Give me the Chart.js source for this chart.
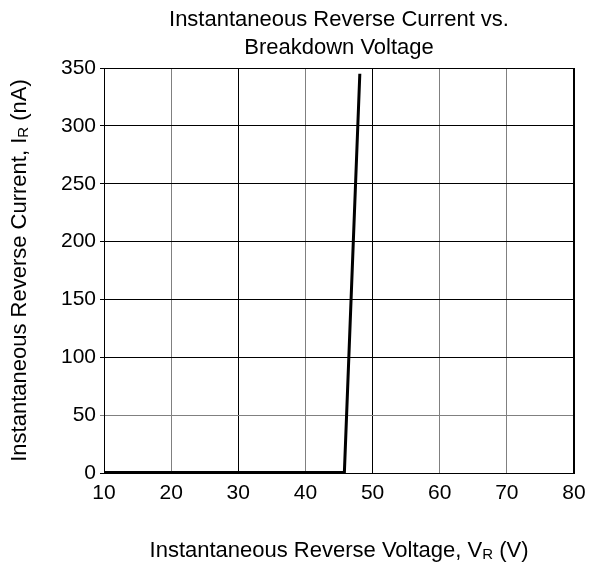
<!DOCTYPE html>
<html>
<head>
<meta charset="utf-8">
<script src="https://cdn.jsdelivr.net/npm/chart.js@4"></script>
<style>
  html, body { margin: 0; padding: 0; background: #fff; }
  #wrap { width: 590px; height: 564px; }
</style>
</head>
<body>
<div id="wrap"><canvas id="chart"></canvas></div>
<script>
// breakdown curve
const voltage = [10, 45.8, 48.1];
const current = [0.5, 0.5, 345];

const xTicks = [10, 20, 30, 40, 50, 60, 70, 80];
const yTicks = [0, 50, 100, 150, 200, 250, 300, 350];

const titleLines = ['Instantaneous Reverse Current vs.', 'Breakdown Voltage'];
const xTitle = ['Instantaneous Reverse Voltage, V', 'R', ' (V)'];
const yTitle = ['Instantaneous Reverse Current, I', 'R', ' (nA)'];

const grayX = [20, 40, 60, 70];
const grayY = [50];

const FONT = '"Liberation Sans", Arial, sans-serif';
const SIZE = 21;
const TITLE_SIZE = 22;

// draw text with a subscript piece, centred on (0,0)
function drawSubText(ctx, parts) {
    const big = TITLE_SIZE + 'px ' + FONT;
    const small = Math.round(TITLE_SIZE * 0.68) + 'px ' + FONT;
    ctx.font = big;
    const w0 = ctx.measureText(parts[0]).width;
    const w2 = ctx.measureText(parts[2]).width;
    ctx.font = small;
    const w1 = ctx.measureText(parts[1]).width;
    let x = -(w0 + w1 + w2) / 2;
    ctx.textAlign = 'left';
    ctx.textBaseline = 'alphabetic';
    ctx.font = big;
    ctx.fillText(parts[0], x, 8);
    x += w0;
    ctx.font = small;
    ctx.fillText(parts[1], x, 10);
    x += w1;
    ctx.font = big;
    ctx.fillText(parts[2], x, 8);
}

const titlesPlugin = {
    id: 'titles',
    afterDraw(chart) {
        const ctx = chart.ctx;
        const area = chart.chartArea;
        const cx = (area.left + area.right) / 2;
        ctx.save();
        ctx.fillStyle = '#000';
        ctx.font = TITLE_SIZE + 'px ' + FONT;
        ctx.textAlign = 'center';
        ctx.textBaseline = 'middle';
        ctx.fillText(titleLines[0], cx, 20);
        ctx.fillText(titleLines[1], cx, 48);

        ctx.save();
        ctx.translate(cx, 549);
        drawSubText(ctx, xTitle);
        ctx.restore();

        ctx.save();
        ctx.translate(18, (area.top + area.bottom) / 2);
        ctx.rotate(-Math.PI / 2);
        drawSubText(ctx, yTitle);
        ctx.restore();
        ctx.restore();
    }
};

new Chart(document.getElementById('chart'), {
    type: 'line',
    data: {
        datasets: [{
            data: voltage.map((v, i) => ({x: v, y: current[i]})),
            borderColor: '#000',
            borderWidth: 3,
            pointRadius: 0,
            tension: 0,
            clip: false
        }]
    },
    options: {
        responsive: true,
        maintainAspectRatio: false,
        animation: false,
        layout: { padding: { top: 68, right: 16, left: 0, bottom: 0 } },
        plugins: {
            legend: { display: false },
            title: { display: false },
            tooltip: { enabled: false }
        },
        scales: {
            x: {
                type: 'linear',
                min: 10,
                max: 80,
                afterBuildTicks: (s) => { s.ticks = xTicks.map(v => ({value: v})); },
                afterFit: (s) => {
                    s.height = 91;
                    s.paddingLeft = 0;
                    s.paddingRight = 0;
                },
                ticks: {
                    color: '#000',
                    font: { family: FONT, size: SIZE },
                    padding: 8,
                    maxRotation: 0
                },
                grid: {
                    color: (c) => grayX.includes(c.tick && c.tick.value) ? '#808080' : '#000',
                    lineWidth: 1,
                    tickLength: 0,
                    drawTicks: false
                },
                border: { color: '#000', width: 1 }
            },
            y: {
                min: 0,
                max: 350,
                afterBuildTicks: (s) => { s.ticks = yTicks.map(v => ({value: v})); },
                afterFit: (s) => {
                    s.width = 104;
                    s.paddingTop = 0;
                    s.paddingBottom = 0;
                },
                ticks: {
                    color: '#000',
                    font: { family: FONT, size: SIZE },
                    padding: 4
                },
                grid: {
                    color: (c) => grayY.includes(c.tick && c.tick.value) ? '#808080' : '#000',
                    lineWidth: 1,
                    tickLength: 4
                },
                border: { color: '#000', width: 1 }
            }
        }
    },
    plugins: [titlesPlugin, {
        id: 'frame',
        afterDraw(chart) {
            const a = chart.chartArea;
            const ctx = chart.ctx;
            ctx.save();
            ctx.strokeStyle = '#000';
            ctx.lineWidth = 1;
            ctx.strokeRect(Math.round(a.left) + 0.5, Math.round(a.top) + 0.5,
                Math.round(a.right - a.left) - 1, Math.round(a.bottom - a.top));
            ctx.restore();
        }
    }]
});
</script>
</body>
</html>
